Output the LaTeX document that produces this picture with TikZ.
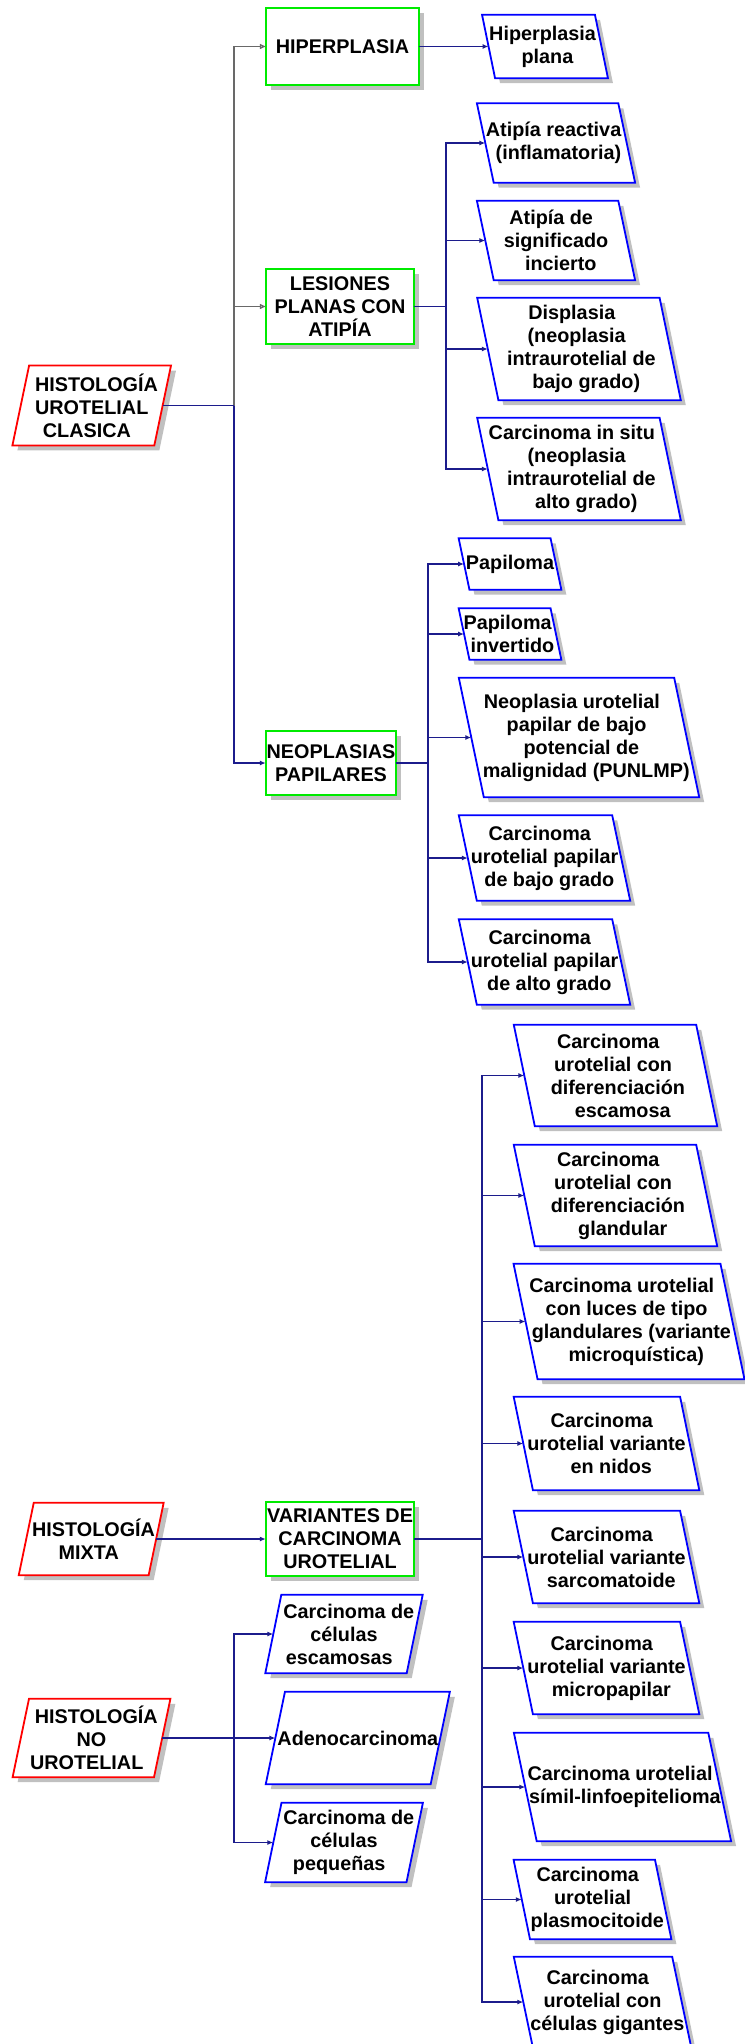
\documentclass[tikz,border=0pt]{standalone}
\usepackage{fontspec}
\setmainfont{Liberation Sans}
\usetikzlibrary{arrows.meta,backgrounds}
\definecolor{navyc}{RGB}{28,28,140}
\definecolor{boxblue}{RGB}{0,0,255}
\definecolor{boxgreen}{RGB}{0,235,0}
\definecolor{boxred}{RGB}{255,0,0}
\definecolor{grayc}{RGB}{105,105,105}
\definecolor{shadowc}{RGB}{192,192,192}
\newcommand\Ln[2]{\makebox[0pt]{\hspace*{#1pt}#2}}
\newcommand\pgram[3]{%
  \begin{pgfonlayer}{background}
    \fill[shadowc] ([shift={({5-(#2)},5)}]#1.north west) -- ([shift={({5-(#2)},5)}]#1.north east)
      -- ([shift={({5+(#2)},5)}]#1.south east) -- ([shift={({5+(#2)},5)}]#1.south west) -- cycle;
    \filldraw[fill=white, draw=#3, line width=1.8pt, line join=miter]
      ([shift={({-(#2)},0)}]#1.north west) -- ([shift={({-(#2)},0)}]#1.north east)
      -- ([shift={({#2},0)}]#1.south east) -- ([shift={({#2},0)}]#1.south west) -- cycle;
  \end{pgfonlayer}}
\tikzset{
  base/.style={rectangle, inner sep=0pt, align=center, text=black,
    font=\bfseries\fontsize{19.8}{23}\selectfont},
  nline/.style={draw=navyc, line width=1.6pt},
  narrow/.style={nline, -{Latex[length=6pt,width=5pt]}},
  garrow/.style={draw=grayc, line width=1.3pt, -{Triangle[open,length=6pt,width=5pt,fill=white]}},
}
\begin{document}
\begin{tikzpicture}[x=1pt,y=-1pt]
\useasboundingbox (0,0) rectangle (744,2044);
% ---------- left column (red) ----------
\node[base, minimum width=141.5, minimum height=79.5] (R1) at (91.7,405.5)
  {\Ln{9.6}{HISTOLOGÍA}\\\Ln{0}{UROTELIAL}\\\Ln{-9.6}{CLASICA}};
\pgram{R1}{-8.35}{boxred}
\node[base, minimum width=129.5, minimum height=72] (R2) at (91.2,1539)
  {\Ln{4.8}{HISTOLOGÍA}\\\Ln{-4.8}{MIXTA}};
\pgram{R2}{-7.5}{boxred}
\node[base, minimum width=141, minimum height=78] (R3) at (91.5,1738)
  {\Ln{9.6}{HISTOLOGÍA}\\\Ln{0}{NO}\\\Ln{-9.6}{UROTELIAL}};
\pgram{R3}{-8.2}{boxred}
% ---------- green boxes ----------
\node[base, minimum width=153, minimum height=77] (G1) at (342.5,46.5) {\Ln{0}{HIPERPLASIA}};
\pgram{G1}{0}{boxgreen}
\node[base, minimum width=148, minimum height=75] (G2) at (340,306.5)
  {\Ln{0}{LESIONES}\\\Ln{0}{PLANAS CON}\\\Ln{0}{ATIPÍA}};
\pgram{G2}{0}{boxgreen}
\node[base, minimum width=130, minimum height=64] (G3) at (331,763)
  {\Ln{0}{NEOPLASIAS}\\\Ln{0}{PAPILARES}};
\pgram{G3}{0}{boxgreen}
\node[base, minimum width=148, minimum height=74] (G4) at (340,1539)
  {\Ln{0}{VARIANTES DE}\\\Ln{0}{CARCINOMA}\\\Ln{0}{UROTELIAL}};
\pgram{G4}{0}{boxgreen}
% ---------- blue boxes, first group ----------
\node[base, minimum width=112.5, minimum height=63] (B1) at (545,46.5)
  {\Ln{-4.8}{Hiperplasia}\\\Ln{4.8}{plana}};
\pgram{B1}{6.5}{boxblue}
\node[base, minimum width=141, minimum height=79] (B2) at (556,143)
  {\Ln{-4.8}{Atipía reactiva}\\\Ln{4.8}{(inflamatoria)}};
\pgram{B2}{8.4}{boxblue}
\node[base, minimum width=141, minimum height=79] (B3) at (556,240.5)
  {\Ln{-9.6}{Atipía de}\\\Ln{0}{significado}\\\Ln{9.6}{incierto}};
\pgram{B3}{8.4}{boxblue}
\node[base, minimum width=182, minimum height=102] (B4) at (579,349)
  {\Ln{-14.4}{Displasia}\\\Ln{-4.8}{(neoplasia}\\\Ln{4.8}{intraurotelial de}\\\Ln{14.4}{bajo grado)}};
\pgram{B4}{10.6}{boxblue}
\node[base, minimum width=182, minimum height=102] (B5) at (579,469)
  {\Ln{-14.4}{Carcinoma in situ}\\\Ln{-4.8}{(neoplasia}\\\Ln{4.8}{intraurotelial de}\\\Ln{14.4}{alto grado)}};
\pgram{B5}{10.6}{boxblue}
% ---------- blue boxes, papillary ----------
\node[base, minimum width=91.5, minimum height=51] (B6) at (510,564) {\Ln{0}{Papiloma}};
\pgram{B6}{5.4}{boxblue}
\node[base, minimum width=91.5, minimum height=51] (B7) at (510,634)
  {\Ln{-4.8}{Papiloma}\\\Ln{4.8}{invertido}};
\pgram{B7}{5.4}{boxblue}
\node[base, minimum width=215, minimum height=119] (B8) at (579,737.5)
  {\Ln{-14.4}{Neoplasia urotelial}\\\Ln{-4.8}{papilar de bajo}\\\Ln{4.8}{potencial de}\\\Ln{14.4}{malignidad (PUNLMP)}};
\pgram{B8}{12.5}{boxblue}
\node[base, minimum width=153, minimum height=85] (B9) at (544.5,858)
  {\Ln{-9.6}{Carcinoma}\\\Ln{0}{urotelial papilar}\\\Ln{9.6}{de bajo grado}};
\pgram{B9}{9}{boxblue}
\node[base, minimum width=153, minimum height=85] (B10) at (544.5,962)
  {\Ln{-9.6}{Carcinoma}\\\Ln{0}{urotelial papilar}\\\Ln{9.6}{de alto grado}};
\pgram{B10}{9}{boxblue}
% ---------- blue boxes, variants ----------
\node[base, minimum width=182, minimum height=101] (B11) at (615.5,1075.5)
  {\Ln{-14.4}{Carcinoma}\\\Ln{-4.8}{urotelial con}\\\Ln{4.8}{diferenciación}\\\Ln{14.4}{escamosa}};
\pgram{B11}{10.5}{boxblue}
\node[base, minimum width=182, minimum height=101] (B12) at (615.5,1195.5)
  {\Ln{-14.4}{Carcinoma}\\\Ln{-4.8}{urotelial con}\\\Ln{4.8}{diferenciación}\\\Ln{14.4}{glandular}};
\pgram{B12}{10.5}{boxblue}
\node[base, minimum width=206.5, minimum height=115] (B13) at (629,1321.5)
  {\Ln{-14.4}{Carcinoma urotelial}\\\Ln{-4.8}{con luces de tipo}\\\Ln{4.8}{glandulares (variante}\\\Ln{14.4}{microquística)}};
\pgram{B13}{12}{boxblue}
\node[base, minimum width=166, minimum height=93] (B14) at (606.5,1443.5)
  {\Ln{-9.6}{Carcinoma}\\\Ln{0}{urotelial variante}\\\Ln{9.6}{en nidos}};
\pgram{B14}{9.6}{boxblue}
\node[base, minimum width=166, minimum height=92] (B15) at (606.5,1557)
  {\Ln{-9.6}{Carcinoma}\\\Ln{0}{urotelial variante}\\\Ln{9.6}{sarcomatoide}};
\pgram{B15}{9.6}{boxblue}
\node[base, minimum width=166, minimum height=92] (B16) at (606.5,1668)
  {\Ln{-9.6}{Carcinoma}\\\Ln{0}{urotelial variante}\\\Ln{9.6}{micropapilar}};
\pgram{B16}{9.6}{boxblue}
\node[base, minimum width=194, minimum height=108] (B17) at (622.5,1787)
  {\Ln{-4.8}{Carcinoma urotelial}\\\Ln{4.8}{símil-linfoepitelioma}};
\pgram{B17}{11.4}{boxblue}
\node[base, minimum width=141, minimum height=79] (B18) at (592.5,1899.5)
  {\Ln{-9.6}{Carcinoma}\\\Ln{0}{urotelial}\\\Ln{9.6}{plasmocitoide}};
\pgram{B18}{8.2}{boxblue}
\node[base, minimum width=158, minimum height=90] (B19) at (602.5,2002)
  {\Ln{-9.6}{Carcinoma}\\\Ln{0}{urotelial con}\\\Ln{9.6}{células gigantes}};
\pgram{B19}{9.5}{boxblue}
% ---------- blue boxes, non-urothelial ----------
\node[base, minimum width=141, minimum height=78] (L1) at (344,1634)
  {\Ln{9.6}{Carcinoma de}\\\Ln{0}{células}\\\Ln{-9.6}{escamosas}};
\pgram{L1}{-8}{boxblue}
\node[base, minimum width=164.5, minimum height=92] (L2) at (357.8,1738) {\Ln{0}{Adenocarcinoma}};
\pgram{L2}{-9.6}{boxblue}
\node[base, minimum width=141, minimum height=79] (L3) at (344,1842.5)
  {\Ln{9.6}{Carcinoma de}\\\Ln{0}{células}\\\Ln{-9.6}{pequeñas}};
\pgram{L3}{-8.2}{boxblue}
% ---------- junctions ----------
\coordinate (j1) at (234,405.5);
\coordinate (j2) at (446,306.5);
\coordinate (j3) at (428,763);
\coordinate (j4) at (482,1539);
\coordinate (j5) at (234,1738);
% ---------- connectors ----------
\draw[garrow] (j1) |- (G1.west);
\draw[garrow] (j1) |- (G2.west);
\draw[nline] (R1.east) -- (j1);
\draw[narrow] (j1) |- (G3.west);
\draw[narrow] (G1.east) -- (B1.west);
\draw[nline] (G2.east) -- (j2);
\foreach \t in {B2,B3,B4,B5} \draw[narrow] (j2) |- (\t.west);
\draw[nline] (G3.east) -- (j3);
\foreach \t in {B6,B7,B8,B9,B10} \draw[narrow] (j3) |- (\t.west);
\draw[narrow] (R2.east) -- (G4.west);
\draw[nline] (G4.east) -- (j4);
\foreach \t in {B11,B12,B13,B14,B15,B16,B17,B18,B19} \draw[narrow] (j4) |- (\t.west);
\draw[nline] (R3.east) -- (j5);
\foreach \t in {L1,L2,L3} \draw[narrow] (j5) |- (\t.west);
\end{tikzpicture}
\end{document}
